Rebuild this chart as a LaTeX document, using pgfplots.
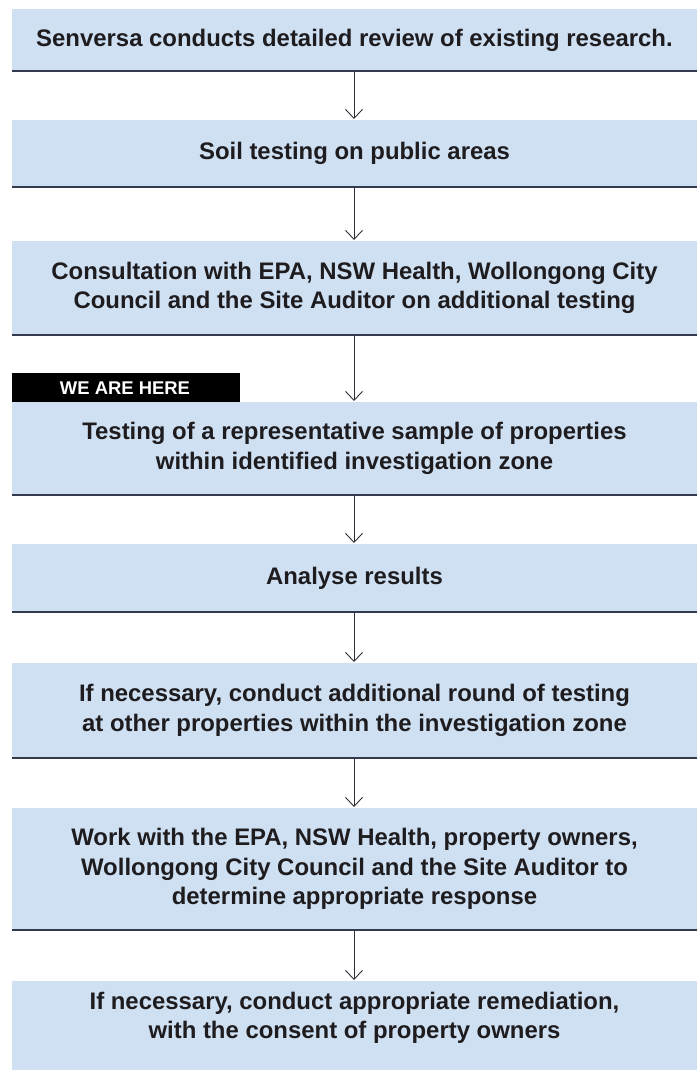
\documentclass[border=0pt]{standalone}
\usepackage{pgfplots}
\pgfplotsset{compat=1.18}
\usepackage{fontspec}
\setmainfont{Liberation Sans}
\usetikzlibrary{arrows.meta}
\definecolor{boxblue}{RGB}{207,224,243}
\definecolor{edge}{RGB}{52,58,78}
\definecolor{txt}{RGB}{30,28,30}
\definecolor{arr}{RGB}{45,45,60}
\begin{document}
\begin{tikzpicture}
\begin{axis}[
  scale only axis, width=698bp, height=1070bp,
  xmin=0, xmax=698, ymin=0, ymax=1070, y dir=reverse,
  axis lines=none, clip=false,
  boxfill/.style={fill=boxblue, draw=none, mark=none},
  boxline/.style={draw=edge, line width=2bp, mark=none},
  flowarrow/.style={draw=arr, line width=0.9bp, mark=none, -{Straight Barb[length=9bp,width=17bp,line width=0.9bp]}},
  ]
\path (axis cs:0,0) rectangle (axis cs:698,1070);
% boxes: top, bottom (pixels from top)
\addplot[boxfill] coordinates {(12,9) (697,9) (697,71) (12,71)} -- cycle;
\addplot[boxfill] coordinates {(12,120) (697,120) (697,187) (12,187)} -- cycle;
\addplot[boxfill] coordinates {(12,241) (697,241) (697,335) (12,335)} -- cycle;
\addplot[boxfill] coordinates {(12,402) (697,402) (697,495) (12,495)} -- cycle;
\addplot[boxfill] coordinates {(12,544) (697,544) (697,612) (12,612)} -- cycle;
\addplot[boxfill] coordinates {(12,663) (697,663) (697,758) (12,758)} -- cycle;
\addplot[boxfill] coordinates {(12,808) (697,808) (697,930) (12,930)} -- cycle;
\addplot[boxfill] coordinates {(12,981) (697,981) (697,1070) (12,1070)} -- cycle;
% bottom rules
\addplot[boxline] coordinates {(12,71) (697,71)};
\addplot[boxline] coordinates {(12,187) (697,187)};
\addplot[boxline] coordinates {(12,335) (697,335)};
\addplot[boxline] coordinates {(12,495) (697,495)};
\addplot[boxline] coordinates {(12,612) (697,612)};
\addplot[boxline] coordinates {(12,758) (697,758)};
\addplot[boxline] coordinates {(12,930) (697,930)};
% arrows
\addplot[flowarrow] coordinates {(354,72) (354,119)};
\addplot[flowarrow] coordinates {(354,188) (354,240)};
\addplot[flowarrow] coordinates {(354,336) (354,401)};
\addplot[flowarrow] coordinates {(354,496) (354,543)};
\addplot[flowarrow] coordinates {(354,613) (354,662)};
\addplot[flowarrow] coordinates {(354,759) (354,807)};
\addplot[flowarrow] coordinates {(354,931) (354,980)};
% WE ARE HERE tag
\addplot[fill=black, draw=none, mark=none] coordinates {(12,373) (240,373) (240,402) (12,402)} -- cycle;
\node[text=white, font=\fontsize{18.5}{20}\selectfont\bfseries] at (axis cs:125,388) {WE ARE HERE};
% texts
\tikzset{lbl/.style={text=txt, align=center, font=\fontsize{24}{29.5}\selectfont\bfseries, inner sep=0pt}}
\node[lbl] at (axis cs:354.5,40) {Senversa conducts detailed review of existing research.};
\node[lbl] at (axis cs:354.5,153.5) {Soil testing on public areas};
\node[lbl] at (axis cs:354.5,288) {Consultation with EPA, NSW Health, Wollongong City\\Council and the Site Auditor on additional testing};
\node[lbl] at (axis cs:354.5,448.5) {Testing of a representative sample of properties\\within identified investigation zone};
\node[lbl] at (axis cs:354.5,578) {Analyse results};
\node[lbl] at (axis cs:354.5,710.5) {If necessary, conduct additional round of testing\\at other properties within the investigation zone};
\node[lbl] at (axis cs:354.5,869) {Work with the EPA, NSW Health, property owners,\\Wollongong City Council and the Site Auditor to\\determine appropriate response};
\node[lbl] at (axis cs:354.5,1018) {If necessary, conduct appropriate remediation,\\with the consent of property owners};
\end{axis}
\end{tikzpicture}
\end{document}
